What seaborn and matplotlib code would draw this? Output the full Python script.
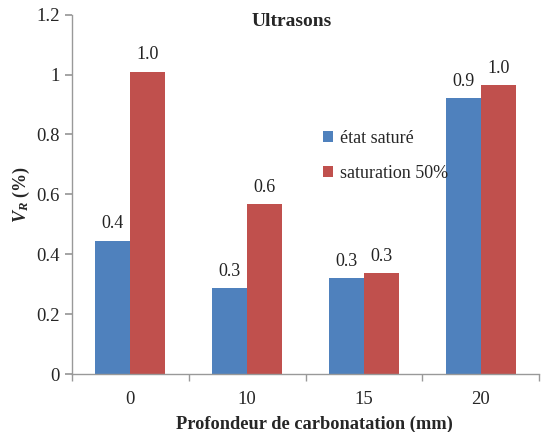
import matplotlib
matplotlib.use("Agg")
import matplotlib.pyplot as plt
import seaborn as sns
import pandas as pd
from matplotlib.ticker import FixedLocator

depths = ["0", "10", "15", "20"]
series = ["état saturé", "saturation 50%"]
vals_sat = [0.445, 0.287, 0.320, 0.922]
vals_50 = [1.010, 0.568, 0.337, 0.965]
labels_sat = ["0.4", "0.3", "0.3", "0.9"]
labels_50 = ["1.0", "0.6", "0.3", "1.0"]
yticks = [0, 0.2, 0.4, 0.6, 0.8, 1, 1.2]
ytick_labels = ["0", "0.2", "0.4", "0.6", "0.8", "1", "1.2"]

df = pd.DataFrame({
    "depth": depths * 2,
    "serie": [series[0]] * 4 + [series[1]] * 4,
    "val": vals_sat + vals_50,
})

sns.set_theme(style="white")
plt.rcParams["font.family"] = ["Liberation Serif", "DejaVu Serif"]
plt.rcParams["mathtext.fontset"] = "custom"
plt.rcParams["mathtext.rm"] = "Liberation Serif"
plt.rcParams["mathtext.it"] = "Liberation Serif:italic:bold"
plt.rcParams["mathtext.bf"] = "Liberation Serif:bold"

fig = plt.figure(figsize=(5.49, 4.32), dpi=100)
ax = fig.add_axes([0.131, 0.134, 0.851, 0.832])

palette = {series[0]: "#4f81bd", series[1]: "#c0504d"}
sns.barplot(data=df, x="depth", y="val", hue="serie", order=depths,
            hue_order=series, palette=palette, width=0.6, gap=0,
            saturation=1, ax=ax, errorbar=None, legend=True,
            linewidth=0, edgecolor="none")

for cont, labs in zip(ax.containers, [labels_sat, labels_50]):
    ax.bar_label(cont, labels=labs, padding=6, fontsize=13, color="#222222")

ax.set_ylim(0, 1.2)
ax.set_xlim(-0.5, 3.5)
ax.set_yticks(yticks)
ax.set_yticklabels(ytick_labels, fontsize=13.5)
ax.tick_params(axis="x", which="major", length=0, pad=12, labelsize=13.5)
ax.xaxis.set_minor_locator(FixedLocator([-0.5, 0.5, 1.5, 2.5, 3.5]))
ax.tick_params(axis="x", which="minor", length=5, color="#999999", direction="out", bottom=True)
ax.tick_params(axis="y", length=5, color="#999999", direction="out", left=True, pad=4)

for s in ["top", "right"]:
    ax.spines[s].set_visible(False)
for s in ["left", "bottom"]:
    ax.spines[s].set_color("#999999")
    ax.spines[s].set_linewidth(1)

ax.set_xlabel("Profondeur de carbonatation (mm)", fontsize=13.2, fontweight="bold")
ax.xaxis.set_label_coords(0.52, -0.115)
ax.set_ylabel(r"$V_R$ (%)", fontsize=13, fontweight="bold", labelpad=3)
ax.set_title("Ultrasons", fontsize=14, fontweight="bold", x=0.47, y=0.945)

leg = ax.legend(loc="upper left", bbox_to_anchor=(0.503, 0.725), frameon=False,
                fontsize=13, handlelength=0.55, handleheight=0.55,
                handletextpad=0.4, labelspacing=1.0)

fig.savefig("out.png", dpi=100)
